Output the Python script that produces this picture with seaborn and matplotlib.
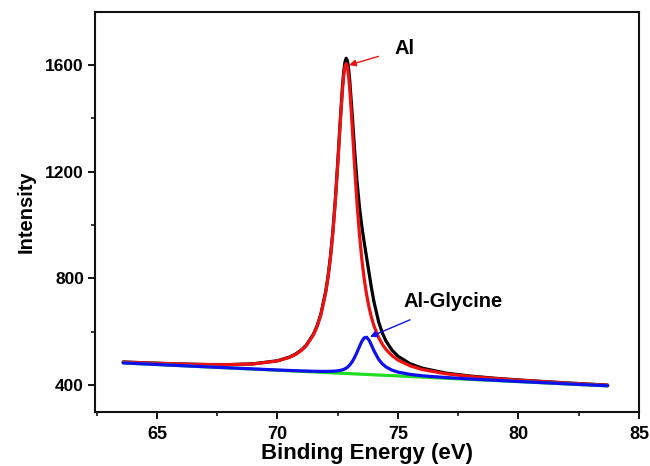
import matplotlib
matplotlib.use("Agg")
import matplotlib.pyplot as plt
import seaborn as sns
import pandas as pd

# Al 2p XPS region: binding energy grid (eV)
binding_energy = [63.6, 65, 66, 67, 68, 69, 70, 70.5, 70.75, 71, 71.2, 71.5,
                  71.65, 71.8, 72.0, 72.1, 72.2, 72.3, 72.4, 72.5, 72.6, 72.7,
                  72.75, 72.8, 72.85, 72.9, 72.95, 73.0, 73.1, 73.2, 73.3,
                  73.4, 73.5, 73.6, 73.7, 73.8, 73.9, 74.0, 74.2, 74.35, 74.5,
                  74.75, 75, 75.5, 76, 77, 78, 79, 80, 81, 82, 83.7]

# measured envelope
envelope = [486.5, 481.9, 479.1, 477.1, 476.8, 479.8, 491.2, 505.0, 516.2,
            532.1, 550.2, 592.0, 623.4, 666.1, 750.0, 808.9, 883.6, 977.8,
            1094.5, 1233.3, 1384.5, 1523.4, 1576.1, 1611.4, 1625.5, 1617.2,
            1588.0, 1541.5, 1417.0, 1283.3, 1164.7, 1069.7, 995.6, 934.6,
            878.2, 820.7, 764.7, 714.2, 636.4, 595.8, 565.8, 531.3, 508.2,
            480.1, 463.5, 444.7, 433.8, 425.7, 419.2, 413.5, 408.1, 399.8]

# metallic Al component
al_component = [486.4, 481.7, 478.9, 476.8, 476.4, 479.2, 490.3, 503.8, 514.7,
                530.4, 548.2, 589.4, 620.4, 662.7, 745.7, 804.1, 878.2, 971.6,
                1087.3, 1224.8, 1374.1, 1510.2, 1561.1, 1594.1, 1605.4, 1593.7,
                1560.3, 1508.9, 1371.9, 1221.8, 1083.5, 966.9, 872.6, 797.7,
                738.5, 691.5, 653.7, 623.2, 577.8, 553.2, 534.0, 510.6, 493.8,
                472.1, 458.5, 442.2, 432.3, 424.7, 418.5, 412.9, 407.7, 399.5]

# Al-glycine component
glycine_component = [483.1, 477.2, 472.9, 468.7, 464.6, 460.5, 456.5, 454.7,
                     453.9, 453.0, 452.5, 451.8, 451.5, 451.3, 451.3, 451.4,
                     451.6, 452.0, 452.5, 453.4, 454.9, 457.3, 458.8, 460.9,
                     463.5, 466.7, 470.7, 475.4, 487.4, 503.4, 522.7, 543.9,
                     563.6, 577.1, 579.3, 568.6, 550.0, 529.5, 496.2, 479.6,
                     468.1, 456.0, 448.6, 440.1, 434.9, 428.1, 422.9, 418.1,
                     413.5, 409.1, 404.6, 397.3]

# linear background
background = [483.0, 477.0, 472.7, 468.4, 464.2, 459.9, 455.6, 453.5, 452.4,
              451.3, 450.5, 449.2, 448.5, 447.9, 447.0, 446.6, 446.2, 445.8,
              445.3, 444.9, 444.5, 444.1, 443.8, 443.6, 443.4, 443.2, 443.0,
              442.8, 442.3, 441.9, 441.5, 441.1, 440.6, 440.2, 439.8, 439.4,
              438.9, 438.5, 437.6, 437.0, 436.3, 435.3, 434.2, 432.1, 429.9,
              425.6, 421.4, 417.1, 412.8, 408.5, 404.2, 397.0]

x_ticks = [65, 70, 75, 80, 85]
y_ticks = [400, 800, 1200, 1600]

sns.set_style("ticks")
plt.rcParams["font.family"] = ["Liberation Sans", "DejaVu Sans"]
plt.rcParams["font.weight"] = "bold"
plt.rcParams["text.color"] = "black"

df = pd.DataFrame({
    "be": binding_energy,
    "envelope": envelope,
    "al": al_component,
    "gly": glycine_component,
    "bg": background,
})

fig = plt.figure(figsize=(6.5, 4.66), dpi=100)
ax = fig.add_axes([0.1462, 0.1159, 0.8368, 0.8583])

line_kw = dict(lw=2.3, ax=ax, sort=False)
sns.lineplot(data=df, x="be", y="envelope", color="black", **line_kw)
sns.lineplot(data=df, x="be", y="al", color="#ee1111", **line_kw)
sns.lineplot(data=df, x="be", y="bg", color="#22dd22", **line_kw)
sns.lineplot(data=df, x="be", y="gly", color="#1010ee", **line_kw)

ax.set_xlim(62.43, 85)
ax.set_ylim(299, 1799)
ax.set_xticks(x_ticks)
ax.set_yticks(y_ticks)
ax.set_xticks([62.5, 67.5, 72.5, 77.5, 82.5], minor=True)
ax.set_yticks([600, 1000, 1400], minor=True)
ax.tick_params(which="major", direction="out", length=5, width=1.3,
               labelsize=12.5, pad=3, color="black", labelcolor="black")
ax.tick_params(axis="x", which="major", pad=5, labelsize=13)
ax.tick_params(which="minor", direction="out", length=3, width=1.1,
               color="black")
for lbl in ax.get_xticklabels() + ax.get_yticklabels():
    lbl.set_fontweight("bold")

for side in ["top", "right", "bottom", "left"]:
    ax.spines[side].set_visible(True)
    ax.spines[side].set_linewidth(1.5)
    ax.spines[side].set_color("#111111")

ax.set_xlabel("Binding Energy (eV)", fontsize=16, fontweight="bold",
              labelpad=0, color="black")
ax.set_ylabel("Intensity", fontsize=14.5, fontweight="bold", labelpad=7,
              color="black")

ax.annotate("Al", xy=(72.97, 1600), xytext=(75.29, 1662),
            fontsize=14.5, fontweight="bold", ha="center", va="center",
            color="black",
            arrowprops=dict(arrowstyle="-|>", color="#ee1111", lw=1.0,
                            mutation_scale=10, shrinkA=10, shrinkB=0))
ax.annotate("Al-Glycine", xy=(73.84, 581), xytext=(77.28, 713),
            fontsize=14.5, fontweight="bold", ha="center", va="center",
            color="black",
            arrowprops=dict(arrowstyle="-|>", color="#1010ee", lw=1.0,
                            mutation_scale=10, shrinkA=10, shrinkB=0))

fig.savefig("out.png", dpi=100)
